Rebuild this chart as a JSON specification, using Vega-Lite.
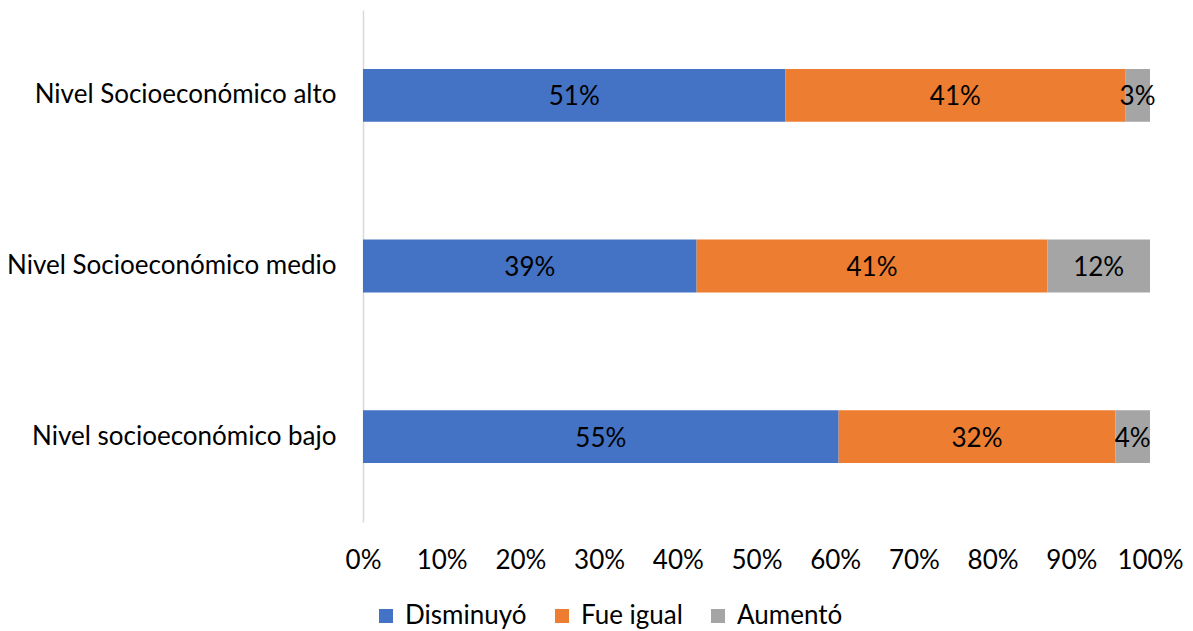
{
  "$schema": "https://vega.github.io/schema/vega-lite/v6.json",
  "width": 787,
  "height": 512,
  "autosize": {"type": "none"},
  "padding": {"left": 363, "top": 10, "right": 43, "bottom": 109},
  "background": "white",
  "config": {
    "font": "Lato",
    "view": {"stroke": null}
  },
  "data": {
    "values": [
      {"nivel": "Nivel Socioeconómico alto", "resp": "Disminuyó", "ord": 1, "v": 0.51},
      {"nivel": "Nivel Socioeconómico alto", "resp": "Fue igual", "ord": 2, "v": 0.41},
      {"nivel": "Nivel Socioeconómico alto", "resp": "Aumentó", "ord": 3, "v": 0.03},
      {"nivel": "Nivel Socioeconómico medio", "resp": "Disminuyó", "ord": 1, "v": 0.39},
      {"nivel": "Nivel Socioeconómico medio", "resp": "Fue igual", "ord": 2, "v": 0.41},
      {"nivel": "Nivel Socioeconómico medio", "resp": "Aumentó", "ord": 3, "v": 0.12},
      {"nivel": "Nivel socioeconómico bajo", "resp": "Disminuyó", "ord": 1, "v": 0.55},
      {"nivel": "Nivel socioeconómico bajo", "resp": "Fue igual", "ord": 2, "v": 0.32},
      {"nivel": "Nivel socioeconómico bajo", "resp": "Aumentó", "ord": 3, "v": 0.04}
    ]
  },
  "encoding": {
    "y": {
      "field": "nivel", "type": "nominal", "sort": null,
      "scale": {"paddingInner": 0.69, "paddingOuter": 0.345},
      "axis": {
        "title": null, "ticks": false, "domainColor": "#d9d9d9", "domainWidth": 1.5,
        "labelFontSize": 26, "labelColor": "#000000", "labelPadding": 27, "labelLimit": 400
      }
    },
    "order": {"field": "ord", "type": "quantitative"}
  },
  "layer": [
    {
      "mark": {"type": "bar"},
      "encoding": {
        "x": {
          "field": "v", "type": "quantitative", "stack": "normalize",
          "scale": {"domain": [0, 1], "nice": false},
          "axis": {
            "title": null, "format": ".0%", "values": [0, 0.1, 0.2, 0.3, 0.4, 0.5, 0.6, 0.7, 0.8, 0.9, 1],
            "domain": false, "ticks": false, "grid": false,
            "labelOverlap": false, "labelFlush": false, "labelBound": false,
            "labelFontSize": 26, "labelColor": "#000000", "labelPadding": 25
          }
        },
        "color": {
          "field": "resp", "type": "nominal",
          "scale": {"domain": ["Disminuyó", "Fue igual", "Aumentó"], "range": ["#4472C4", "#ED7D31", "#A5A5A5"]},
          "legend": {
            "title": null, "orient": "none", "direction": "horizontal",
            "legendX": 10, "legendY": 593,
            "symbolType": "square", "symbolSize": 196, "symbolStrokeWidth": 0,
            "labelFontSize": 26, "labelColor": "#000000", "columnPadding": 22, "labelOffset": 6
          }
        }
      }
    },
    {
      "mark": {"type": "text", "fontSize": 26, "color": "#000000", "dy": 2},
      "encoding": {
        "x": {"field": "v", "type": "quantitative", "stack": "normalize", "bandPosition": 0.5},
        "text": {"field": "v", "type": "quantitative", "format": ".0%"}
      }
    }
  ]
}
